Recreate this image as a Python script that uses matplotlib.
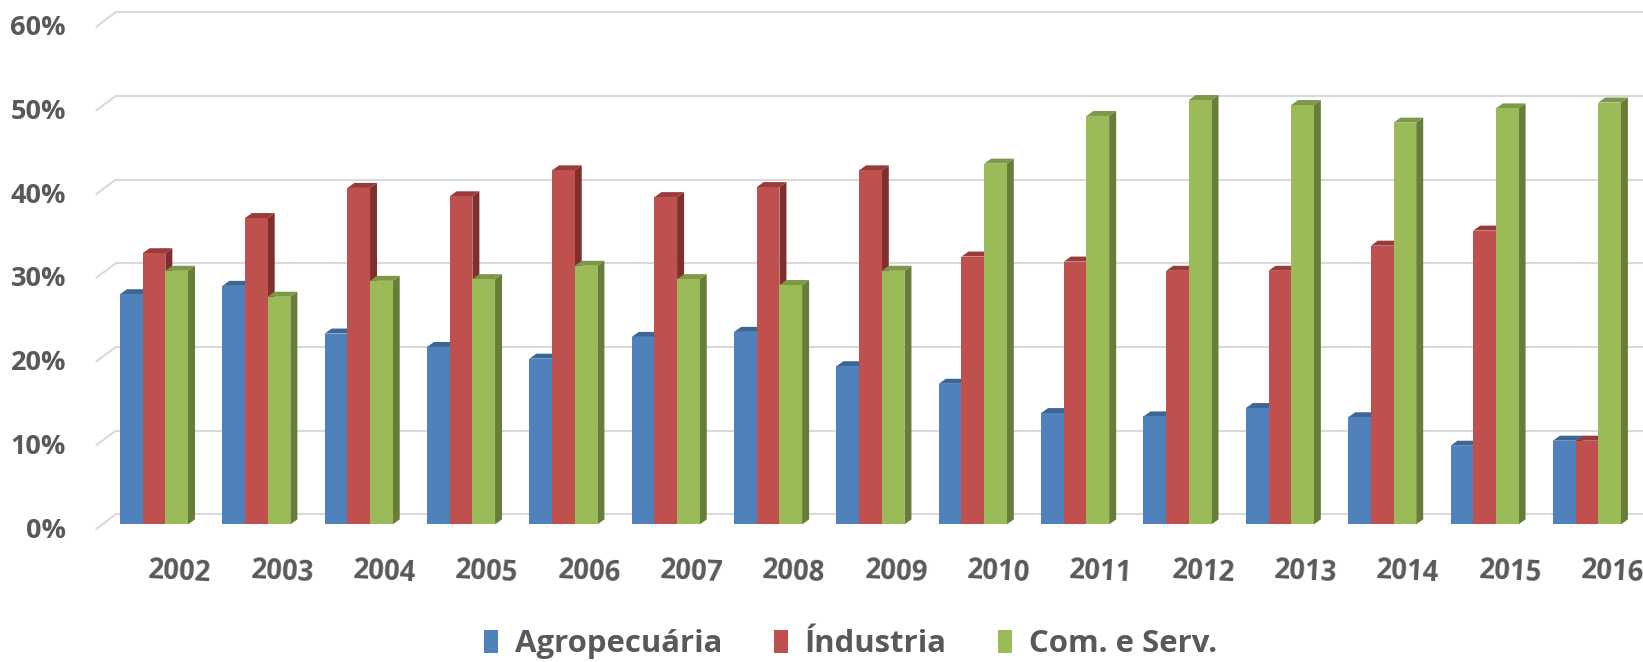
import matplotlib
matplotlib.use("Agg")
import matplotlib.pyplot as plt
from matplotlib.patches import Polygon, Patch

years = ["2002", "2003", "2004", "2005", "2006", "2007", "2008", "2009",
         "2010", "2011", "2012", "2013", "2014", "2015", "2016"]
agro = [27.5, 28.5, 22.8, 21.2, 19.8, 22.4, 23.0, 18.9, 16.8, 13.3, 12.9, 13.9, 12.8, 9.4, 10.0]
industria = [32.4, 36.6, 40.2, 39.2, 42.3, 39.1, 40.3, 42.3, 32.0, 31.4, 30.3, 30.3, 33.3, 35.1, 10.0]
servicos = [30.3, 27.2, 29.1, 29.3, 30.9, 29.3, 28.6, 30.3, 43.1, 48.8, 50.7, 50.1, 48.0, 49.7, 50.4]
series_names = ["Agropecuária", "Índustria", "Com. e Serv."]
yticks = [0, 10, 20, 30, 40, 50, 60]

front_c = ["#4F81BD", "#C0504D", "#9BBB59"]
top_c = ["#3D6698", "#983B3A", "#7D9847"]
side_c = ["#335684", "#7E2F2E", "#677D3A"]
text_c = "#595959"
grid_c = "#D9D9D9"

W, H = 1643, 662
fig = plt.figure(figsize=(W / 100, H / 100), dpi=100)
ax = fig.add_axes([0, 0, 1, 1])
px_x = 102.35          # pixels per category
px_y = 8.37            # pixels per percent
x0_px, y0_px = 154.0, 524.4
ax.set_xlim(-x0_px / px_x, (W - x0_px) / px_x)
ax.set_ylim(-(H - y0_px) / px_y, y0_px / px_y)
ax.axis("off")

# depth offsets (data units)
bdx, bdy = 7.0 / px_x, 5.0 / px_y          # bar depth
wdx, wdy = 13.3 / px_x, 10.0 / px_y        # bar front -> back wall
fdx, fdy = -6.7 / px_x, -4.9 / px_y        # bar front -> floor front

# gridlines on back wall with oblique left segment
xr = (W - x0_px) / px_x + 1
wall_left = -0.374
for t in yticks:
    ax.plot([wall_left + fdx - wdx, wall_left], [t + fdy, t + wdy],
            color=grid_c, lw=1.5, solid_capstyle="butt", zorder=1)
    ax.plot([wall_left, xr], [t + wdy, t + wdy], color=grid_c, lw=1.5, zorder=1)
    ax.text(-0.86, t + fdy - 0.15, f"{t}%", ha="right", va="center",
            fontsize=19.5, fontweight="bold", color=text_c, family="Open Sans")

bw = 0.2215
gw = 3 * bw
data = [agro, industria, servicos]
z = 5
for i in range(len(years)):
    for j, vals in enumerate(data):
        v = vals[i]
        xl = i - gw / 2 + j * bw
        xr_ = xl + bw
        side = Polygon([(xr_, 0), (xr_ + bdx, bdy), (xr_ + bdx, v + bdy), (xr_, v)],
                       closed=True, facecolor=side_c[j], edgecolor="none", zorder=z)
        top = Polygon([(xl, v), (xr_, v), (xr_ + bdx, v + bdy), (xl + bdx, v + bdy)],
                      closed=True, facecolor=top_c[j], edgecolor="none", zorder=z)
        ax.add_patch(side)
        ax.add_patch(top)
        ax.bar(xl, v, width=bw, align="edge", color=front_c[j], edgecolor="none",
               zorder=z + 1)
        z += 2
    ax.text(i + 0.254, -5.69, years[i], ha="center", va="center", rotation=-3,
            fontsize=19.8, fontweight="bold", color=text_c, family="Open Sans")

handles = [Patch(facecolor=c, edgecolor="none") for c in front_c]
fig.legend(handles, series_names, loc="center", bbox_to_anchor=(0.5177, 0.027),
           ncol=3, frameon=False, handlelength=0.45, handleheight=0.75,
           handletextpad=0.55, columnspacing=1.65,
           prop={"family": "Open Sans", "weight": "bold", "size": 22.4},
           labelcolor=text_c)

fig.savefig("out.png", dpi=100)
